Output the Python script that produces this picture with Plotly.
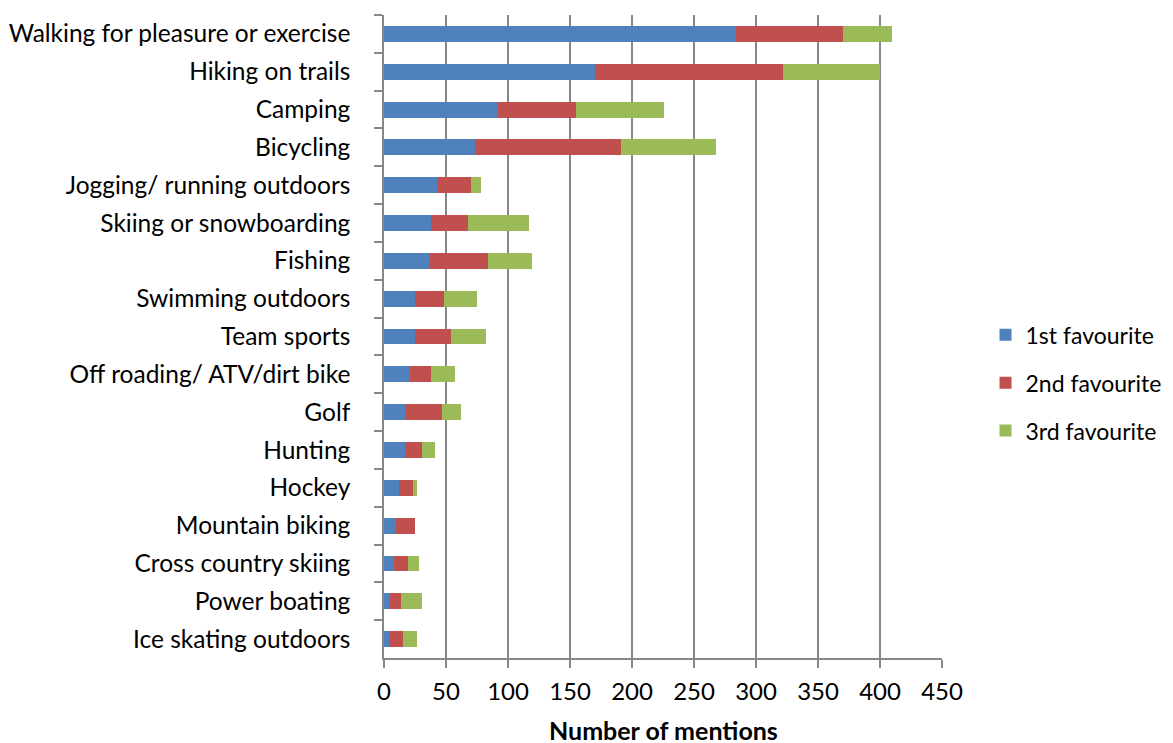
import plotly.graph_objects as go

activities = [
    "Walking for pleasure or exercise", "Hiking on trails", "Camping", "Bicycling",
    "Jogging/ running outdoors", "Skiing or snowboarding", "Fishing", "Swimming outdoors",
    "Team sports", "Off roading/ ATV/dirt bike", "Golf", "Hunting", "Hockey",
    "Mountain biking", "Cross country skiing", "Power boating", "Ice skating outdoors",
]
first_fav = [284, 170, 92, 73, 43, 38, 36, 25, 25, 21, 18, 17, 12, 10, 8, 5, 4]
second_fav = [86, 152, 63, 118, 27, 30, 48, 23, 29, 17, 29, 14, 11, 15, 11, 9, 11]
third_fav = [40, 78, 71, 77, 8, 49, 35, 27, 28, 19, 15, 10, 4, 0, 9, 17, 12]

series_names = ["1st favourite", "2nd favourite", "3rd favourite"]
colors = ["#4F81BD", "#C0504D", "#9BBB59"]
x_title = "Number of mentions"

fig = go.Figure()
for name, vals, col in zip(series_names, [first_fav, second_fav, third_fav], colors):
    fig.add_trace(go.Bar(
        y=activities, x=vals, name=name, orientation="h", legendgroup=name,
        marker=dict(color=col, line=dict(width=0)),
    ))

font_family = "Lato, Open Sans, sans-serif"
fig.update_layout(
    barmode="stack",
    bargap=0.58,
    width=1157, height=735,
    margin=dict(l=376, r=223, t=7, b=85, autoexpand=False),
    plot_bgcolor="white", paper_bgcolor="white",
    font=dict(family=font_family, size=24, color="black"),
    showlegend=True,
    legend=dict(
        x=1.078, xanchor="left", y=0.428, yanchor="middle",
        traceorder="grouped", font=dict(size=23), tracegroupgap=15,
    ),
    xaxis=dict(
        range=[0, 450], dtick=50, tick0=0,
        showgrid=True, gridcolor="#878787", gridwidth=1.5,
        showline=True, linecolor="#878787", linewidth=1.5,
        ticks="outside", ticklen=8, tickcolor="#878787", tickwidth=1.5,
        zeroline=False, automargin=False,
        tickfont=dict(size=24), ticklabelstandoff=3,
    ),
    yaxis=dict(
        autorange="reversed", automargin=False,
        showline=True, linecolor="#878787", linewidth=1.5,
        ticks="outside", ticklen=8, tickcolor="#878787", tickwidth=1.5,
        tickson="boundaries",
        showgrid=False,
        tickfont=dict(size=24.5),
        ticklabelstandoff=27,
    ),
    annotations=[dict(
        text="<b>" + x_title + "</b>", xref="paper", yref="paper",
        x=0.5, y=-0.112, xanchor="center", yanchor="middle",
        showarrow=False, borderpad=0,
        font=dict(size=25, family=font_family, color="black"),
    )],
)

fig.write_html("out.html")
